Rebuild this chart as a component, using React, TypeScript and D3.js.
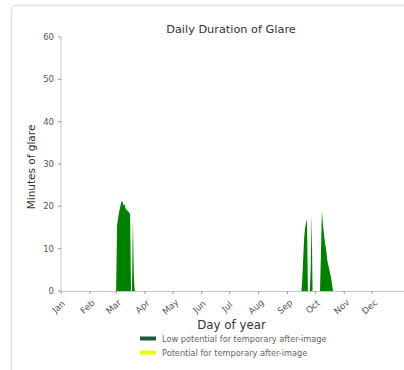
import React from "react";
import * as d3 from "d3";

const monthLabels = ["Jan", "Feb", "Mar", "Apr", "May", "Jun", "Jul", "Aug", "Sep", "Oct", "Nov", "Dec"];
const monthStartDays = [0, 31, 59, 90, 120, 151, 181, 212, 243, 273, 304, 334];
const yTicks = [0, 10, 20, 30, 40, 50, 60];

// day-of-year (0 = Jan 1) and minutes of glare, low potential series
const glareDays = [
  58, 59, 60, 61, 62, 63, 64, 65, 66, 67, 68, 69, 70, 71, 72, 73, 74, 75, 76, 77, 78, 79,
  258, 259, 260, 261, 262, 263, 264, 265, 267, 268, 269, 270,
  278, 279, 280, 281, 282, 283, 284, 285, 286, 287, 288, 289, 290, 291, 292,
];
const glareMinutes = [
  0, 0, 15.5, 17, 18.5, 19.5, 20.5, 21.3, 21, 20.2, 20.5, 19.6, 19.2, 19, 18.8, 18.5, 18.2, 0, 0, 17, 3.5, 0,
  0, 3, 8, 12.5, 15, 16, 17, 0, 0, 5, 18, 0,
  0, 9, 19, 16, 14, 12, 10.5, 9, 7, 6, 5, 4, 3, 1.5, 0,
];
const legendLabels = ["Low potential for temporary after-image", "Potential for temporary after-image"];

export default function App() {
  const W = 404, H = 370;
  const x = d3.scaleLinear().domain([0, 365]).range([61.2, 61.2 + 365 * 0.931]);
  const y = d3.scaleLinear().domain([0, 60]).range([291, 37]);
  const pts = glareDays.map((d, i) => [d, glareMinutes[i]] as [number, number]);
  const area = d3.area<[number, number]>()
    .x((d) => x(d[0]))
    .y0(y(0))
    .y1((d) => y(d[1]));
  const font = "DejaVu Sans, sans-serif";
  return (
    <div style={{ position: "fixed", left: 0, top: 0 }}>
      <svg width={W} height={H} style={{ display: "block", background: "#fff" }}>
        <rect x={11.5} y={5.5} width={420} height={400} rx={4} fill="#fff" stroke="#e2e2e2" strokeWidth={1.5} />
        <text x={231} y={33} textAnchor="middle" fontFamily={font} fontSize={11.3} fill="#333">Daily Duration of Glare</text>
        <path d={area(pts) || ""} fill="#008000" stroke="none" />
        {/* spines */}
        <line x1={61} x2={61} y1={37} y2={291} stroke="#c4c4c4" strokeWidth={1} />
        <line x1={61} x2={404} y1={291.5} y2={291.5} stroke="#c4c4c4" strokeWidth={1} />
        {yTicks.map((t) => (
          <g key={t}>
            <line x1={58} x2={61} y1={y(t)} y2={y(t)} stroke="#999" />
            <text x={54} y={y(t) + 3} textAnchor="end" fontFamily={font} fontSize={8.5} fill="#555">{t}</text>
          </g>
        ))}
        {monthStartDays.map((d, i) => (
          <g key={i}>
            <line x1={x(d)} x2={x(d)} y1={291} y2={294} stroke="#999" />
            <text
              transform={`translate(${x(d) - 0.5},${309}) rotate(-42)`}
              textAnchor="middle"
              fontFamily={font}
              fontSize={8.8}
              fill="#555"
            >{monthLabels[i]}</text>
          </g>
        ))}
        <text transform={`translate(35,167) rotate(-90)`} textAnchor="middle" fontFamily={font} fontSize={10.5} fill="#333">Minutes of glare</text>
        <text x={231.5} y={329} textAnchor="middle" fontFamily={font} fontSize={11.8} fill="#333">Day of year</text>
        <rect x={140} y={336.5} width={16} height={4} fill="#1f5a3c" />
        <text x={162} y={341.5} fontFamily={font} fontSize={8.2} fill="#666">{legendLabels[0]}</text>
        <rect x={140} y={350.5} width={16} height={4} fill="#e8ff00" />
        <text x={162} y={355.5} fontFamily={font} fontSize={8.2} fill="#666">{legendLabels[1]}</text>
      </svg>
    </div>
  );
}
